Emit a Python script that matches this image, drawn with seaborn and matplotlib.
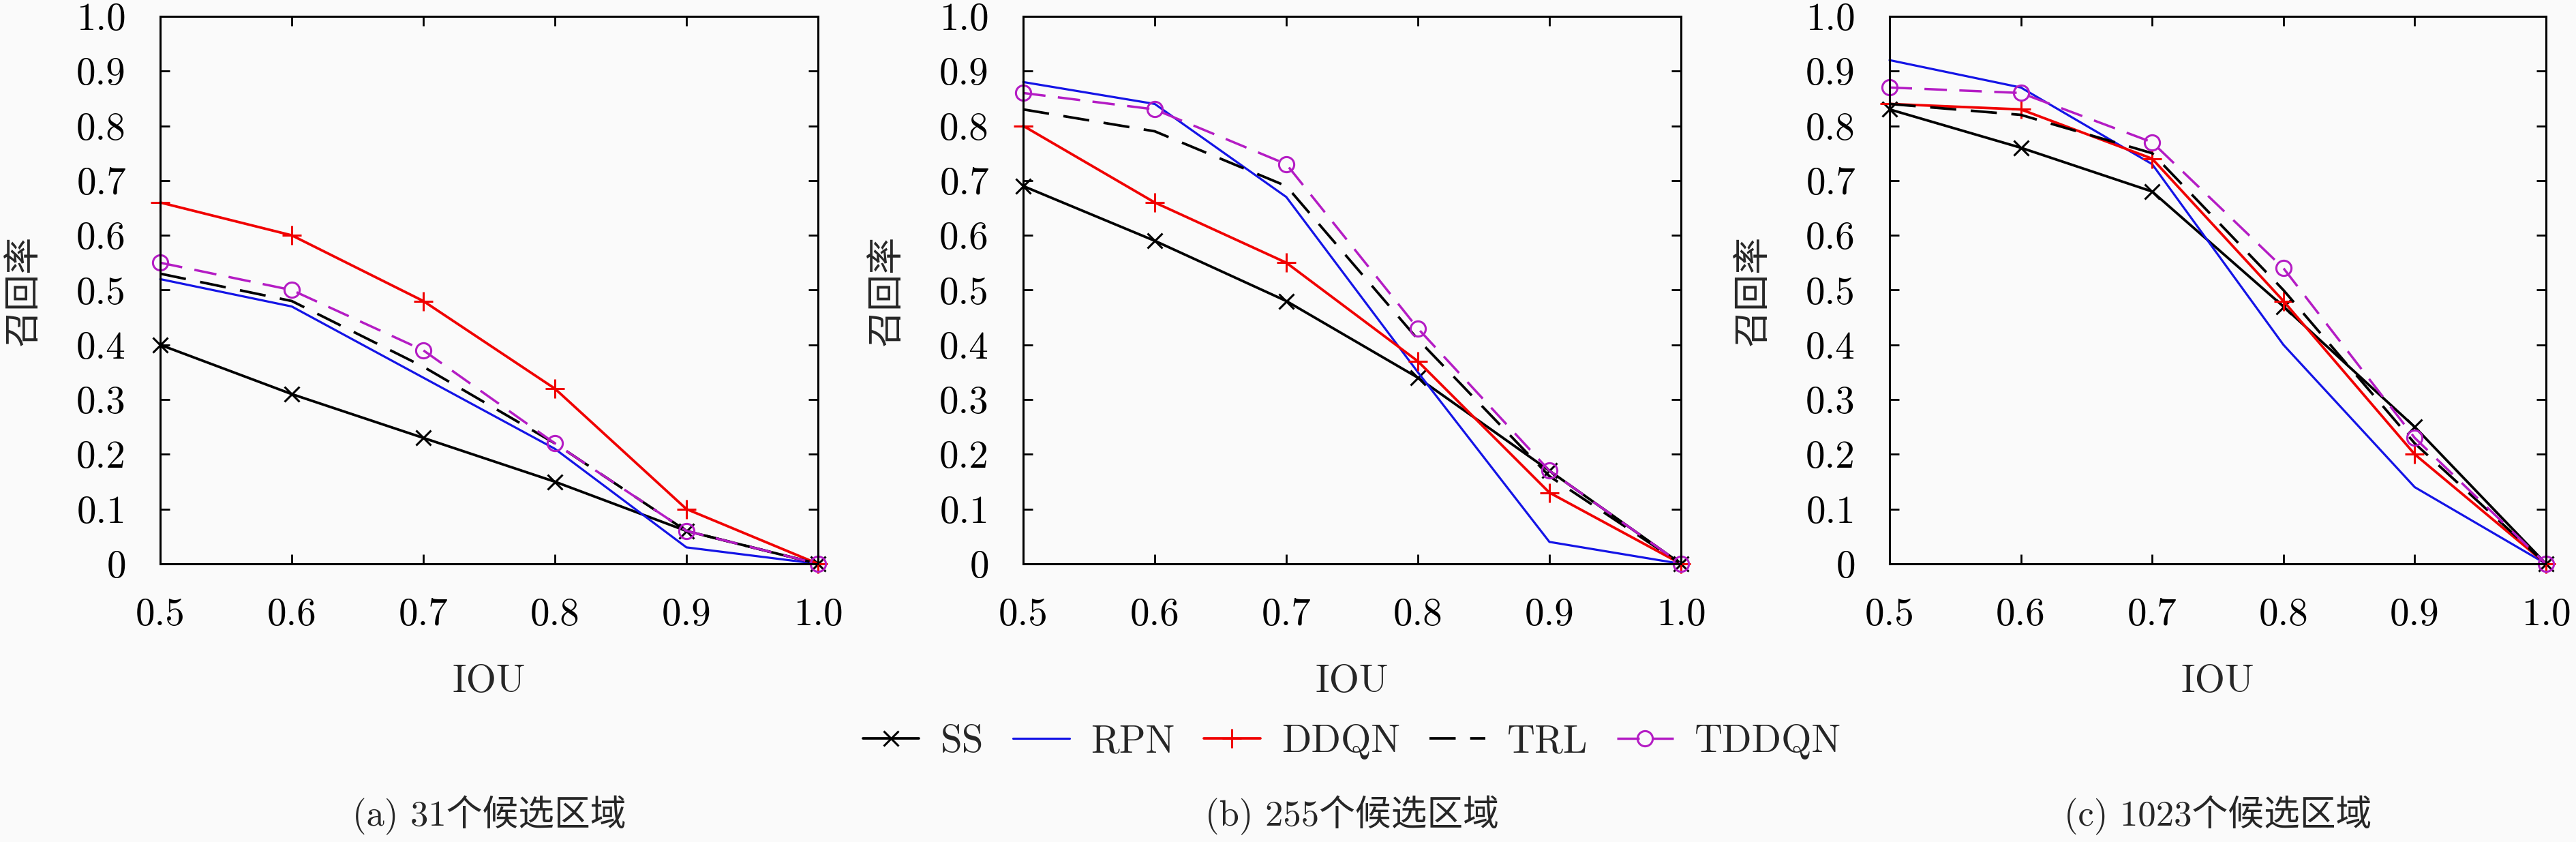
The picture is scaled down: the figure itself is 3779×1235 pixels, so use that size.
import matplotlib
matplotlib.use("Agg")
import matplotlib.pyplot as plt
import seaborn as sns

# IoU thresholds on the x axis
iou = [0.5, 0.6, 0.7, 0.8, 0.9, 1.0]
x_ticklabels = ["0.5", "0.6", "0.7", "0.8", "0.9", "1.0"]
y_ticks = [0, 0.1, 0.2, 0.3, 0.4, 0.5, 0.6, 0.7, 0.8, 0.9, 1.0]
y_ticklabels = ["0", "0.1", "0.2", "0.3", "0.4", "0.5", "0.6", "0.7", "0.8", "0.9", "1.0"]

methods = ["SS", "RPN", "DDQN", "TRL", "TDDQN"]
captions = ["(a) 31个候选区域", "(b) 255个候选区域", "(c) 1023个候选区域"]

# recall values, one list per method and panel
ss_31 = [0.40, 0.31, 0.23, 0.15, 0.06, 0.0]
rpn_31 = [0.52, 0.47, 0.34, 0.21, 0.03, 0.0]
ddqn_31 = [0.66, 0.60, 0.48, 0.32, 0.10, 0.0]
trl_31 = [0.53, 0.48, 0.36, 0.22, 0.06, 0.0]
tddqn_31 = [0.55, 0.50, 0.39, 0.22, 0.06, 0.0]

ss_255 = [0.69, 0.59, 0.48, 0.34, 0.17, 0.0]
rpn_255 = [0.88, 0.84, 0.67, 0.35, 0.04, 0.0]
ddqn_255 = [0.80, 0.66, 0.55, 0.37, 0.13, 0.0]
trl_255 = [0.83, 0.79, 0.69, 0.41, 0.16, 0.0]
tddqn_255 = [0.86, 0.83, 0.73, 0.43, 0.17, 0.0]

ss_1023 = [0.83, 0.76, 0.68, 0.47, 0.25, 0.0]
rpn_1023 = [0.92, 0.87, 0.73, 0.40, 0.14, 0.0]
ddqn_1023 = [0.84, 0.83, 0.74, 0.48, 0.20, 0.0]
trl_1023 = [0.84, 0.82, 0.75, 0.50, 0.22, 0.0]
tddqn_1023 = [0.87, 0.86, 0.77, 0.54, 0.23, 0.0]

panels = [
    [ss_31, rpn_31, ddqn_31, trl_31, tddqn_31],
    [ss_255, rpn_255, ddqn_255, trl_255, tddqn_255],
    [ss_1023, rpn_1023, ddqn_1023, trl_1023, tddqn_1023],
]

# line styles per method
styles = {
    "SS": dict(color="black", dashes=None, marker="x", ms=16, lw=2.7),
    "RPN": dict(color="#1414e6", dashes=None, marker=None, ms=0, lw=2.3),
    "DDQN": dict(color="#f00000", dashes=None, marker="+", ms=20, lw=2.7),
    "TRL": dict(color="black", dashes=(3.8, 2.1), marker=None, ms=0, lw=2.7),
    "TDDQN": dict(color="#b41cc4", dashes=(3.8, 2.1), marker="o", ms=16, lw=2.5),
}

sns.set_theme(style="ticks")
plt.rcParams["font.family"] = ["cmr10", "Noto Sans CJK SC", "DejaVu Sans"]
plt.rcParams["axes.unicode_minus"] = False

fs = 41
bg = "#fafafa"

fig = plt.figure(figsize=(37.8, 12.35), dpi=100, facecolor=bg)
positions = [
    [235 / 3780, 0.3304, 965 / 3780, 0.6502],
    [1501 / 3780, 0.3304, 965 / 3780, 0.6502],
    [2772 / 3780, 0.3304, 963 / 3780, 0.6502],
]

axes = []
for pos, series, cap in zip(positions, panels, captions):
    ax = fig.add_axes(pos)
    ax.set_facecolor(bg)
    for name, vals in zip(methods, series):
        st = styles[name]
        sns.lineplot(x=iou, y=vals, ax=ax, label=name,
                     color=st["color"], marker=st["marker"], markersize=st["ms"],
                     markeredgecolor=st["color"], markerfacecolor="none",
                     markeredgewidth=2.2, linewidth=st["lw"], clip_on=False,
                     legend=False)
        if st["dashes"] is not None:
            ax.lines[-1].set_dashes(st["dashes"] and [d * st["lw"] for d in st["dashes"]])
    ax.set_xlim(0.5, 1.0)
    ax.set_ylim(0, 1.0)
    ax.set_xticks(iou)
    ax.set_xticklabels(x_ticklabels)
    ax.set_yticks(y_ticks)
    ax.set_yticklabels(y_ticklabels)
    ax.tick_params(direction="in", length=10, width=2, top=True, right=True,
                   labelsize=fs, pad=36, colors="black")
    for sp in ax.spines.values():
        sp.set_visible(True)
        sp.set_linewidth(2.2)
        sp.set_color("black")
    ax.set_xlabel("IOU", fontsize=fs, labelpad=34)
    ax.set_ylabel("召回率", fontsize=39, labelpad=38)
    ax.grid(False)
    cx = pos[0] + pos[2] / 2
    fig.text(cx, 1 - 1196 / 1235, cap, fontsize=38, ha="center", va="center")
    axes.append(ax)

handles, labels = axes[0].get_legend_handles_labels()
mid = positions[1][0] + positions[1][2] / 2
fig.legend(handles, labels, loc="center", bbox_to_anchor=(mid, 1 - 1088 / 1235),
           ncol=5, frameon=False, fontsize=fs, handlelength=1.45,
           handletextpad=0.55, columnspacing=0.75)

fig.savefig("out.png", dpi=100, facecolor=bg)
